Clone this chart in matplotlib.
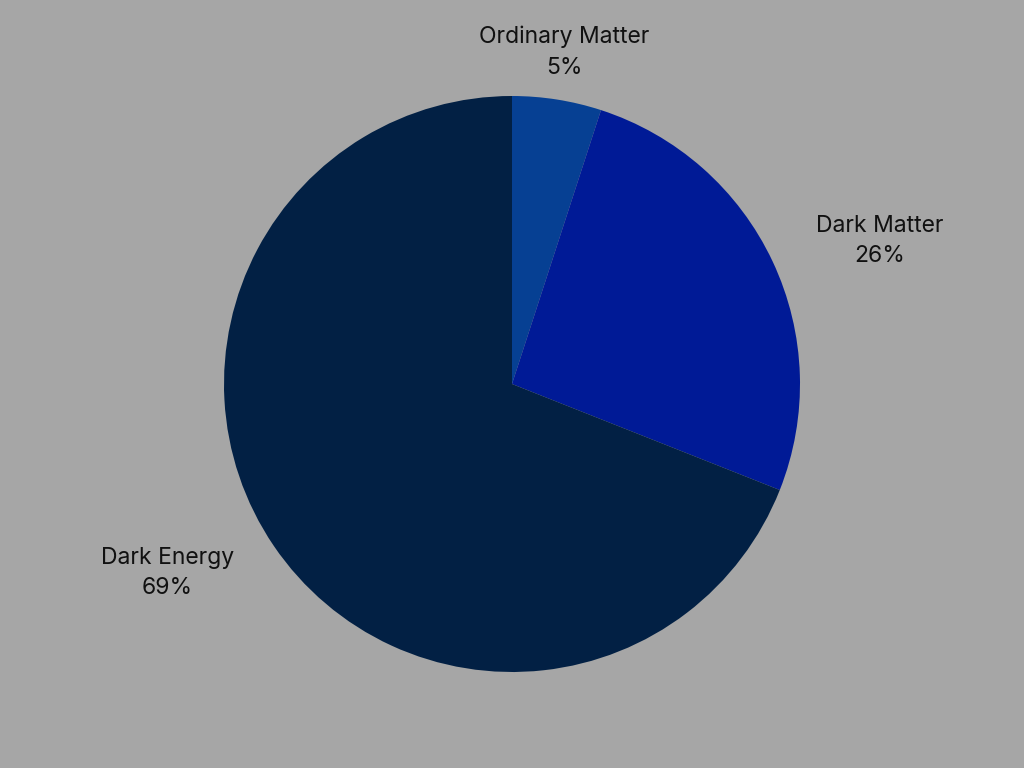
import matplotlib
matplotlib.use('Agg')
import matplotlib.pyplot as plt

labels = ['Ordinary Matter', 'Dark Matter', 'Dark Energy']
shares = [5, 26, 69]
colors = ['#064093', '#001A96', '#022044']

plt.rcParams['font.family'] = ['Inter', 'DejaVu Sans']

fig = plt.figure(figsize=(10.24, 7.68), dpi=100, facecolor='#A6A6A6')
ax = fig.add_axes([0, 0, 1, 1])
ax.set_facecolor('#A6A6A6')

texts = ['{}\n{}%'.format(n, v) for n, v in zip(labels, shares)]
wedges, lbls = ax.pie(shares, labels=texts, colors=colors, startangle=90,
                      counterclock=False, radius=1, labeldistance=1.167,
                      textprops={'fontsize': 16.5, 'color': '#111111',
                                 'multialignment': 'center', 'linespacing': 1.5})
# top label sits centred over its slice
lbls[0].set_ha('center')

# radius of 288 px on a 1024x768 canvas
ax.set_xlim(-1024 / 576, 1024 / 576)
ax.set_ylim(-768 / 576, 768 / 576)
ax.set_aspect('equal')
ax.axis('off')

fig.savefig('out.png', dpi=100, facecolor='#A6A6A6')
